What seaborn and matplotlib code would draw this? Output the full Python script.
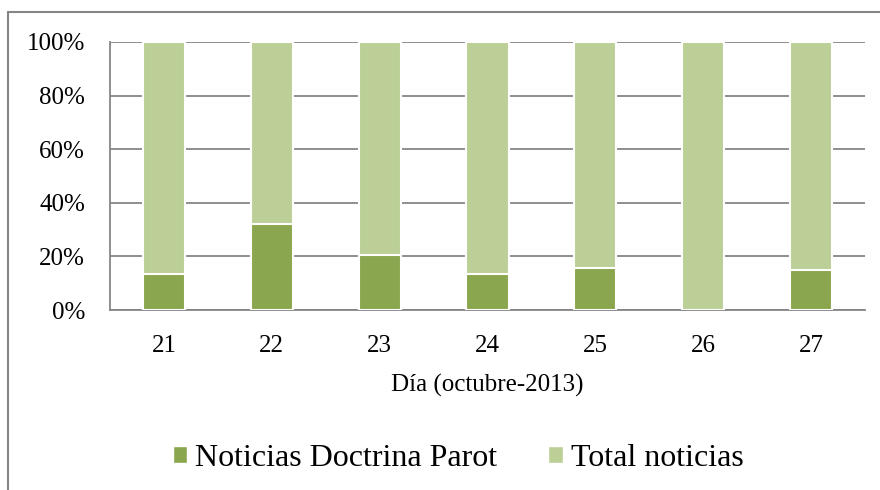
import numpy as np
import pandas as pd
import matplotlib
matplotlib.use("Agg")
import matplotlib.pyplot as plt
import seaborn as sns
from matplotlib.lines import Line2D
from matplotlib.patches import Patch

# datos (porcentaje por día)
dias = ["21", "22", "23", "24", "25", "26", "27"]
parot = [13.4, 32.1, 20.5, 13.3, 15.8, 0.0, 14.9]
total = [100 - p for p in parot]

c_parot = "#8aa64e"
c_total = "#bbcf97"
gris = "#868686"

sns.set_theme(style="white")
plt.rcParams["font.family"] = ["Liberation Serif", "DejaVu Serif"]
plt.rcParams["text.color"] = "black"
plt.rcParams["xtick.labelcolor"] = "black"
plt.rcParams["ytick.labelcolor"] = "black"
plt.rcParams["axes.labelcolor"] = "black"

df = pd.DataFrame({"dia": dias, "parot": parot, "total": total})
df["suma"] = df["parot"] + df["total"]

fig = plt.figure(figsize=(8.8, 4.9), dpi=100)
ax = fig.add_axes([110 / 880, 1 - 310 / 490, 755 / 880, 268 / 490])

sns.barplot(data=df, x="dia", y="suma", color=c_total, width=0.39,
            edgecolor="white", linewidth=1.5, saturation=1, ax=ax, zorder=3)
sns.barplot(data=df, x="dia", y="parot", color=c_parot, width=0.39,
            edgecolor="white", linewidth=1.5, saturation=1, ax=ax, zorder=4)

ax.set_xlim(-0.5, 6.5)
ax.set_ylim(0, 100)
ax.set_yticks(np.arange(0, 101, 20))
ax.set_yticklabels([f"{v}%" for v in range(0, 101, 20)], fontsize=18)
ax.set_xticks(range(len(dias)))
ax.set_xticklabels(dias, fontsize=18)
ax.set_xticks(np.arange(-0.5, 7, 1), minor=True)
ax.tick_params(axis="x", which="major", length=0, pad=18)
ax.tick_params(axis="x", which="minor", length=6, width=1.2, color=gris, direction="out")
ax.tick_params(axis="y", length=7, width=1.2, color=gris, direction="out", pad=11)

ax.grid(axis="y", color=gris, linewidth=1.3, zorder=0)
ax.set_axisbelow(True)
for s in ["top", "right"]:
    ax.spines[s].set_visible(False)
for s in ["left", "bottom"]:
    ax.spines[s].set_color(gris)
    ax.spines[s].set_linewidth(1.3)

ax.set_ylabel("")
ax.set_xlabel("Día (octubre-2013)", fontsize=18, labelpad=12)

handles = [Patch(facecolor=c_parot, edgecolor="white"),
           Patch(facecolor=c_total, edgecolor="white")]
fig.legend(handles, ["Noticias Doctrina Parot", "Total noticias"],
           loc="center", bbox_to_anchor=(458 / 880, 1 - 458 / 490),
           ncol=2, frameon=False, fontsize=23, handlelength=0.45, handleheight=0.45,
           handletextpad=0.25, columnspacing=1.6)

# marco exterior (solo borde superior e izquierdo visibles)
fig.add_artist(Line2D([8 / 880, 1], [1 - 12 / 490, 1 - 12 / 490], color=gris, lw=1.5,
                      transform=fig.transFigure))
fig.add_artist(Line2D([8 / 880, 8 / 880], [0, 1 - 12 / 490], color=gris, lw=1.5,
                      transform=fig.transFigure))

fig.savefig("out.png", dpi=100)
